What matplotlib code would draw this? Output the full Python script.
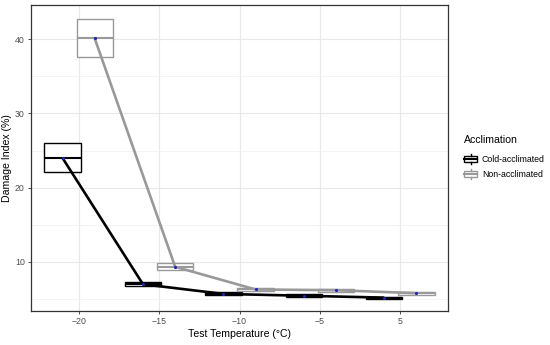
import numpy as np
import matplotlib
matplotlib.use("Agg")
import matplotlib.pyplot as plt
from matplotlib.patches import Rectangle
from matplotlib.lines import Line2D
from matplotlib.legend_handler import HandlerBase

plt.rcParams['font.family'] = ['Liberation Sans', 'DejaVu Sans']

# data
temps = [-20, -15, -10, -5, 0]
tick_labels = ["\u221220", "\u221215", "\u221210", "\u22125", "5"]
groups = ["Cold-acclimated", "Non-acclimated"]

cold_q1 = [22.1, 6.7, 5.5, 5.3, 5.0]
cold_med = [24.0, 7.0, 5.7, 5.45, 5.2]
cold_q3 = [26.0, 7.3, 5.9, 5.7, 5.35]

non_q1 = [37.6, 8.95, 6.1, 6.0, 5.6]
non_med = [40.1, 9.35, 6.3, 6.2, 5.8]
non_q3 = [42.7, 9.8, 6.45, 6.4, 6.0]

colors = {"Cold-acclimated": "black", "Non-acclimated": "#999999"}
offsets = {"Cold-acclimated": -1.0, "Non-acclimated": 1.0}
series = {"Cold-acclimated": (cold_q1, cold_med, cold_q3),
          "Non-acclimated": (non_q1, non_med, non_q3)}

fig = plt.figure(figsize=(5.5, 3.45), dpi=100)
ax = fig.add_axes([31/550, 1-311/345, (448-31)/550, (311-5)/345])

for g in groups:
    q1, med, q3 = series[g]
    pos = [t + offsets[g] for t in temps]
    stats = [dict(med=m, q1=a, q3=b, whislo=a, whishi=b, fliers=[])
             for a, m, b in zip(q1, med, q3)]
    c = colors[g]
    ax.bxp(stats, positions=pos, widths=2.25, showcaps=False, patch_artist=True,
           boxprops=dict(facecolor="white", edgecolor=c, linewidth=1.0),
           medianprops=dict(color=c, linewidth=1.5),
           whiskerprops=dict(color=c, linewidth=1.0), manage_ticks=False, zorder=2)

for g in groups:
    q1, med, q3 = series[g]
    pos = [t + offsets[g] for t in temps]
    ax.plot(pos, med, color=colors[g], lw=1.9, zorder=3, solid_capstyle="butt")
    ax.scatter(pos, med, s=5, color="#2222bb", zorder=4, linewidths=0)

ax.set_xlim(-22.96, 2.96)
ax.set_ylim(3.4, 44.6)
ax.set_xticks(temps)
ax.set_xticklabels(tick_labels)
ax.set_yticks([10, 20, 30, 40])
ax.set_yticks([5, 15, 25, 35], minor=True)
ax.grid(True, which="major", color="#e8e8e8", lw=0.8)
ax.grid(True, which="minor", axis="y", color="#f0f0f0", lw=0.5)
ax.set_axisbelow(True)
ax.tick_params(which="major", length=2.5, width=0.6, color="#333333",
               labelsize=6.3, labelcolor="#4d4d4d", pad=2)
ax.tick_params(which="minor", length=0)
for s in ax.spines.values():
    s.set_color("#333333")
    s.set_linewidth(0.9)
ax.set_xlabel("Test Temperature (\u00b0C)", fontsize=7.6, labelpad=2)
ax.set_ylabel("Damage Index (%)", fontsize=7.6, labelpad=2)


class HandlerBox(HandlerBase):
    def create_artists(self, legend, orig_handle, xdescent, ydescent,
                       width, height, fontsize, trans):
        c = orig_handle.get_color()
        w = width
        x0 = -xdescent
        h = height * 1.3
        y0 = -ydescent + (height - h) / 2
        rect = Rectangle((x0, y0 + h * 0.2), w, h * 0.6, facecolor="white",
                         edgecolor=c, lw=1.0, transform=trans)
        med = Line2D([x0, x0 + w], [y0 + h / 2] * 2, color=c, lw=1.5, transform=trans)
        wh1 = Line2D([x0 + w / 2] * 2, [y0, y0 + h * 0.2], color=c, lw=1.0, transform=trans)
        wh2 = Line2D([x0 + w / 2] * 2, [y0 + h * 0.8, y0 + h], color=c, lw=1.0, transform=trans)
        return [rect, med, wh1, wh2]


handles = [Line2D([], [], color=colors[g]) for g in groups]
leg = fig.legend(handles, groups, loc="upper left", bbox_to_anchor=(464/550, 1-135/345),
                 frameon=False, title="Acclimation", fontsize=6.3, title_fontsize=7.6,
                 handler_map={Line2D: HandlerBox()}, handlelength=1.5, handleheight=1.0,
                 labelspacing=0.7, handletextpad=0.55, borderpad=0.0, borderaxespad=0.0)
leg._legend_box.align = "left"
leg._legend_box.sep = 7

fig.savefig("out.png", dpi=100)
